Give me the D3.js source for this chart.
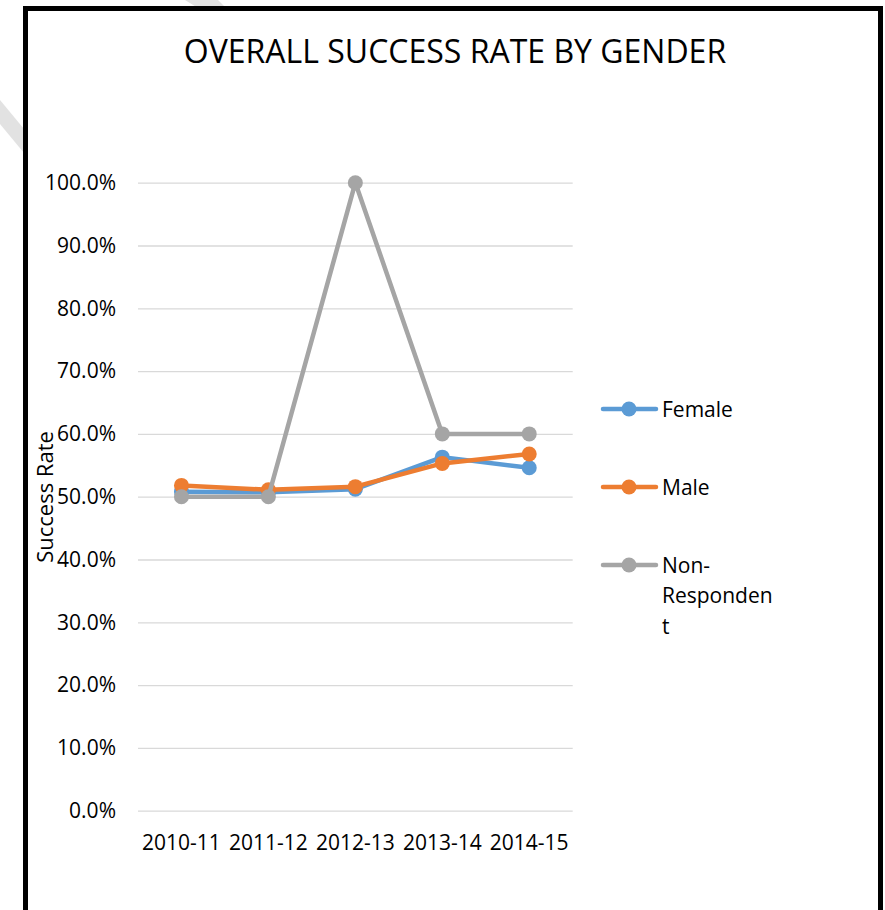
<!DOCTYPE html>
<html>
<head>
<meta charset="utf-8">
<script src="https://cdn.jsdelivr.net/npm/d3@7"></script>
<style>
  body { margin: 0; background: #fff; }
  text { font-family: "Open Sans", sans-serif; fill: #000; }
</style>
</head>
<body>
<svg id="chart" width="885" height="910"></svg>
<script>
var years = ["2010-11", "2011-12", "2012-13", "2013-14", "2014-15"]
var female = [0.508, 0.507, 0.512, 0.563, 0.546]
var male = [0.518, 0.511, 0.516, 0.553, 0.568]
var nonRespondent = [0.50, 0.50, 1.00, 0.60, 0.60]
var yTicks = [0, 0.1, 0.2, 0.3, 0.4, 0.5, 0.6, 0.7, 0.8, 0.9, 1.0]

var series = [
    { name: "Female", values: female, colour: "#5B9BD5", label: ["Female"] },
    { name: "Male", values: male, colour: "#ED7D31", label: ["Male"] },
    { name: "Non-Respondent", values: nonRespondent, colour: "#A5A5A5", label: ["Non-", "Responden", "t"] }
]

var svg = d3.select("#chart")

// faint watermark bits outside the frame
svg.append("polygon").attr("points", "0,100 24,129 24,153 0,124").attr("fill", "#e2e2e2")
svg.append("polygon").attr("points", "185,0 218,0 226,8 198,8").attr("fill", "#e2e2e2")

// frame
svg.append("rect")
    .attr("x", 25.5).attr("y", 8.5)
    .attr("width", 855).attr("height", 1000)
    .attr("fill", "#fff")
    .attr("stroke", "#000")
    .attr("stroke-width", 5)

svg.append("text")
    .attr("x", 455).attr("y", 63)
    .attr("text-anchor", "middle")
    .style("font-size", "32px")
    .text("OVERALL SUCCESS RATE BY GENDER")

var x = d3.scaleBand().domain(years).range([138, 572.7])
var y = d3.scaleLinear().domain([0, 1]).range([810.7, 182.7])

// gridlines
svg.append("g")
    .attr("transform", "translate(138,0)")
    .call(d3.axisLeft(y).tickValues(yTicks).tickSize(-(572.7 - 138)).tickFormat(""))
    .call(g => g.select(".domain").remove())
    .call(g => g.selectAll("line").attr("stroke", "#d9d9d9").attr("stroke-width", 1.3))

// y tick labels
svg.append("g")
    .attr("transform", "translate(138,0)")
    .call(d3.axisLeft(y).tickValues(yTicks).tickSize(0).tickPadding(22).tickFormat(d3.format(".1%")))
    .call(g => g.select(".domain").remove())
    .call(g => g.selectAll("text").style("font-size", "21px").style("font-family", "Open Sans").attr("fill", "#000"))

// x tick labels
svg.append("g")
    .attr("transform", "translate(0,810.7)")
    .call(d3.axisBottom(x).tickSize(0).tickPadding(24))
    .call(g => g.select(".domain").remove())
    .call(g => g.selectAll("text").style("font-size", "21px").style("font-family", "Open Sans").attr("fill", "#000"))

svg.append("text")
    .attr("transform", "translate(53,497) rotate(-90)")
    .attr("text-anchor", "middle")
    .style("font-size", "22px")
    .text("Success Rate")

var line = d3.line()
    .x((d, i) => x(years[i]) + x.bandwidth() / 2)
    .y(d => y(d))

series.forEach(function(s) {
    var g = svg.append("g")
    g.append("path")
        .attr("d", line(s.values))
        .attr("fill", "none")
        .attr("stroke", s.colour)
        .attr("stroke-width", 4.5)
        .attr("stroke-linejoin", "round")
        .attr("stroke-linecap", "round")
    g.selectAll("circle")
        .data(s.values)
        .join("circle")
        .attr("cx", (d, i) => x(years[i]) + x.bandwidth() / 2)
        .attr("cy", d => y(d))
        .attr("r", 7.5)
        .attr("fill", s.colour)
})

// legend
var legend = svg.append("g")
series.forEach(function(s, i) {
    var ly = 409 + i * 78
    legend.append("line")
        .attr("x1", 603).attr("x2", 656)
        .attr("y1", ly).attr("y2", ly)
        .attr("stroke", s.colour)
        .attr("stroke-width", 4.5)
        .attr("stroke-linecap", "round")
    legend.append("circle")
        .attr("cx", 629).attr("cy", ly).attr("r", 7.5)
        .attr("fill", s.colour)
    var t = legend.append("text")
        .attr("x", 662).attr("y", ly)
        .style("font-size", "21px")
    s.label.forEach(function(part, j) {
        t.append("tspan")
            .attr("x", 662)
            .attr("dy", j == 0 ? "0.36em" : "30.5px")
            .text(part)
    })
})
</script>
</body>
</html>
